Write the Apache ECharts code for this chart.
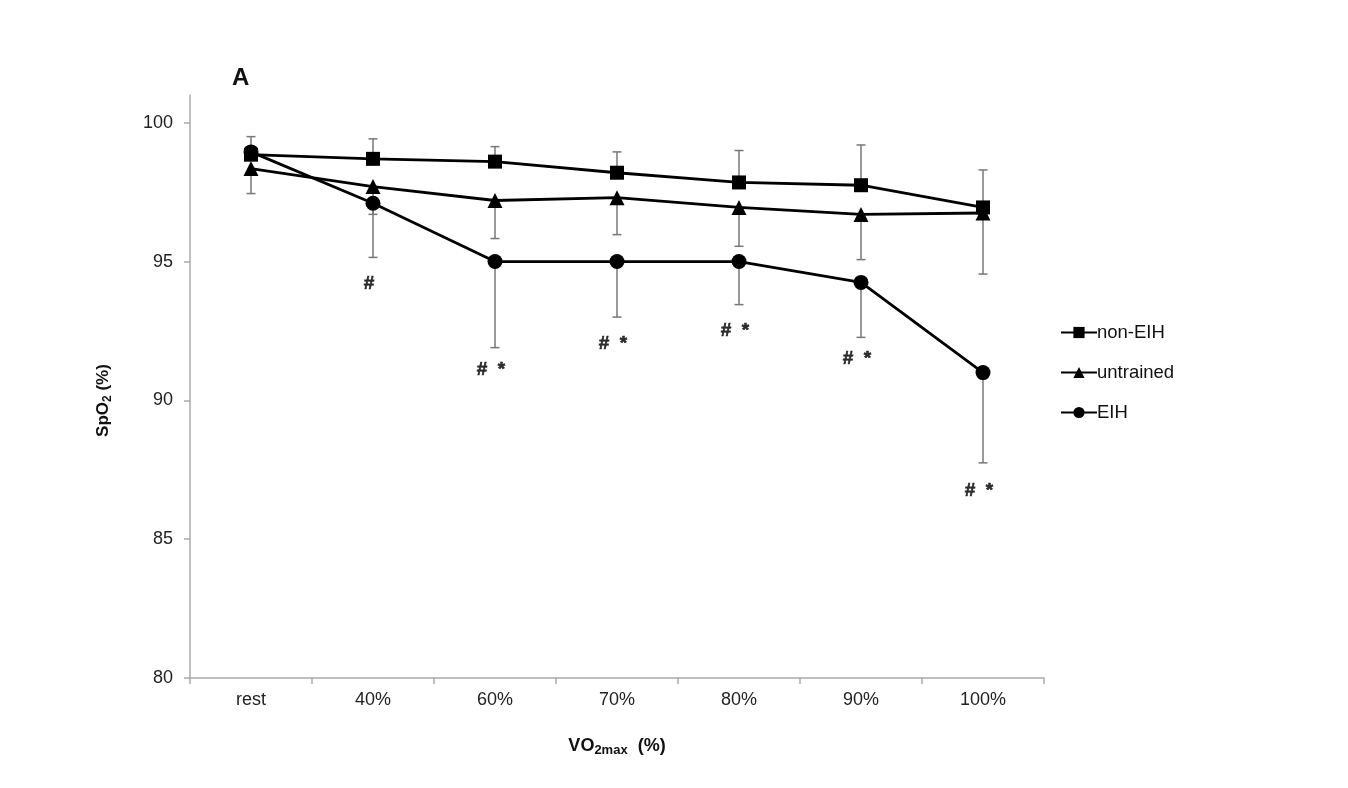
<!DOCTYPE html>
<html>
<head>
<meta charset="utf-8">
<script src="https://cdn.jsdelivr.net/npm/echarts@6/dist/echarts.min.js"></script>
<style>
html,body{margin:0;padding:0;background:#fff;}
#chart{width:1348px;height:788px;}
</style>
</head>
<body>
<div id="chart"></div>
<script>
const categories = ['rest', '40%', '60%', '70%', '80%', '90%', '100%'];
const yTicks = [80, 85, 90, 95, 100];

const nonEIH = [98.85, 98.7, 98.6, 98.2, 97.85, 97.75, 96.95];
const nonEIHUpper = [99.5, 99.42, 99.14, 98.95, 99.0, 99.2, 98.3];

const untrained = [98.35, 97.7, 97.2, 97.3, 96.95, 96.7, 96.75];
const untrainedLower = [97.45, 96.7, 95.83, 95.97, 95.55, 95.07, 94.55];

const EIH = [98.95, 97.1, 95.0, 95.0, 95.0, 94.25, 91.0];
const EIHLower = [null, 95.15, 91.9, 93.0, 93.45, 92.27, 87.75];

const sigLabels = ['', '#', '#  *', '#  *', '#  *', '#  *', '#  *'];
const sigY = [null, 94.2, 91.1, 92.05, 92.5, 91.5, 86.75];

const FONT = '"Liberation Sans", Arial, sans-serif';

function errData(mean, bound) {
  const out = [];
  mean.forEach((m, i) => { if (bound[i] != null) out.push([i, m, bound[i]]); });
  return out;
}

function errSeries(data) {
  return {
    type: 'custom',
    z: 1,
    silent: true,
    data: data,
    encode: { x: 0, y: [1, 2] },
    renderItem: function (params, api) {
      const i = api.value(0);
      const p1 = api.coord([i, api.value(1)]);
      const p2 = api.coord([i, api.value(2)]);
      const hw = 4.5;
      const st = { stroke: '#777', lineWidth: 1.5 };
      return {
        type: 'group',
        children: [
          { type: 'line', shape: { x1: p1[0], y1: p1[1], x2: p2[0], y2: p2[1] }, style: st },
          { type: 'line', shape: { x1: p2[0] - hw, y1: p2[1], x2: p2[0] + hw, y2: p2[1] }, style: st }
        ]
      };
    }
  };
}

function lineSeries(name, data, symbol, size) {
  return {
    name: name,
    type: 'line',
    z: 3,
    data: data,
    symbol: symbol,
    symbolSize: size,
    showAllSymbol: true,
    lineStyle: { color: '#000', width: 2.8 },
    itemStyle: { color: '#000', borderWidth: 0 },
    emphasis: { disabled: true }
  };
}

const sigData = [];
sigY.forEach((v, i) => {
  if (v != null) sigData.push({ value: [i, v], label: { formatter: sigLabels[i] } });
});

const chart = echarts.init(document.getElementById('chart'), null, { renderer: 'canvas' });
chart.setOption({
  backgroundColor: '#fff',
  animation: false,
  textStyle: { fontFamily: FONT },
  title: {
    text: 'A',
    left: 227,
    top: 61,
    textStyle: { fontFamily: FONT, fontSize: 24, fontWeight: 'bold', color: '#111' }
  },
  legend: {
    orient: 'vertical',
    left: 1055,
    top: 318,
    itemWidth: 36,
    itemHeight: 14,
    itemGap: 21,
    data: ['non-EIH', 'untrained', 'EIH'],
    textStyle: { fontFamily: FONT, fontSize: 18.5, color: '#111', padding: [0, 0, 0, -5] },
    selectedMode: false
  },
  grid: { left: 190, right: 304, top: 95, bottom: 110, containLabel: false },
  xAxis: {
    type: 'category',
    data: categories,
    boundaryGap: true,
    axisLine: { lineStyle: { color: '#aaa', width: 1.5 } },
    axisTick: { show: true, length: 6, lineStyle: { color: '#aaa', width: 1.5 } },
    axisLabel: { color: '#222', fontSize: 18, margin: 13, fontFamily: FONT },
    splitLine: { show: false },
    name: '{b|VO}{s|2max}{b|  (%)}',
    nameLocation: 'middle',
    nameGap: 57,
    nameTextStyle: {
      rich: {
        b: { fontFamily: FONT, fontSize: 18, fontWeight: 'bold', color: '#111', lineHeight: 22 },
        s: { fontFamily: FONT, fontSize: 13, fontWeight: 'bold', color: '#111', lineHeight: 10, verticalAlign: 'bottom' }
      }
    }
  },
  yAxis: {
    type: 'value',
    min: 80,
    max: 101,
    interval: 5,
    axisLine: { show: true, lineStyle: { color: '#aaa', width: 1.5 } },
    axisTick: { show: true, length: 6, customValues: yTicks, lineStyle: { color: '#aaa', width: 1.5 } },
    axisLabel: { color: '#222', fontSize: 18, margin: 17, fontFamily: FONT, customValues: yTicks },
    splitLine: { show: false },
    name: '{b|SpO}{s|2}{b| (%)}',
    nameLocation: 'middle',
    nameGap: 76,
    nameTextStyle: {
      padding: [0, 0, 0, -28],
      rich: {
        b: { fontFamily: FONT, fontSize: 17, fontWeight: 'bold', color: '#111', lineHeight: 22 },
        s: { fontFamily: FONT, fontSize: 12, fontWeight: 'bold', color: '#111', lineHeight: 10, verticalAlign: 'bottom' }
      }
    }
  },
  series: [
    errSeries(errData(nonEIH, nonEIHUpper)),
    errSeries(errData(untrained, untrainedLower)),
    errSeries(errData(EIH, EIHLower)),
    lineSeries('non-EIH', nonEIH, 'rect', 14),
    lineSeries('untrained', untrained, 'triangle', 15),
    lineSeries('EIH', EIH, 'circle', 15),
    {
      type: 'scatter',
      silent: true,
      symbolSize: 0,
      z: 4,
      data: sigData,
      label: {
        show: true,
        position: 'inside',
        offset: [-4, 0],
        fontFamily: FONT,
        fontSize: 19,
        fontWeight: 'bold',
        color: '#000',
        textBorderColor: '#000',
        textBorderWidth: 0.6
      }
    }
  ]
});
</script>
</body>
</html>
